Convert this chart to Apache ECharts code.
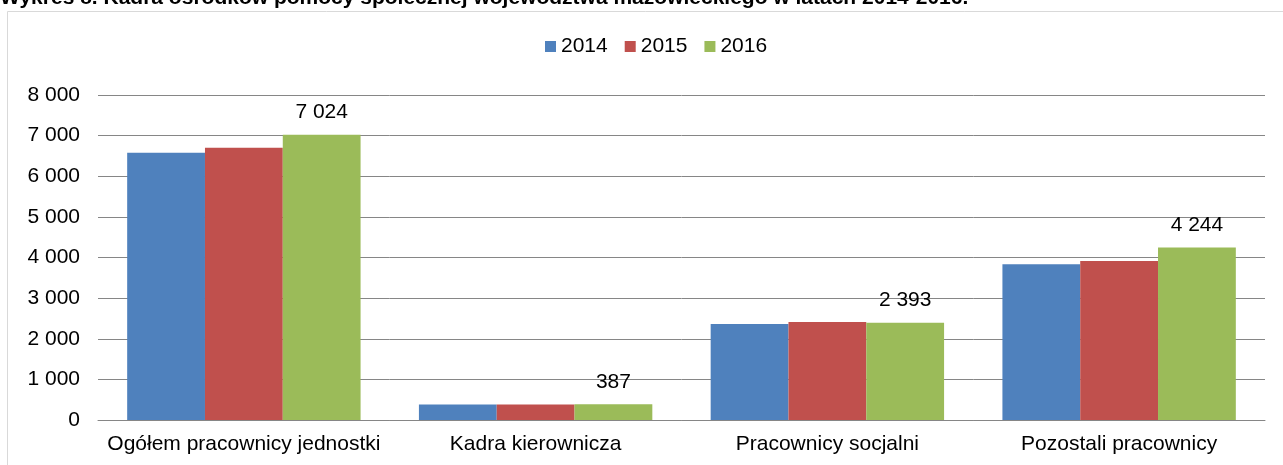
<!DOCTYPE html>
<html>
<head>
<meta charset="utf-8">
<script src="https://cdn.jsdelivr.net/npm/echarts@6/dist/echarts.min.js"></script>
<style>
  html, body { margin: 0; padding: 0; background: #fff; }
  #chart { width: 1283px; height: 465px; }
</style>
</head>
<body>
<div id="chart"></div>
<script>
// kategorie i wartości
const categories = ['Ogółem pracownicy jednostki', 'Kadra kierownicza', 'Pracownicy socjalni', 'Pozostali pracownicy']
const years = ['2014', '2015', '2016']
const values2014 = [6580, 379, 2363, 3832]
const values2015 = [6703, 383, 2412, 3914]
const values2016 = [7024, 387, 2393, 4244]
const yTicks = [0, 1000, 2000, 3000, 4000, 5000, 6000, 7000, 8000]

const fmt = v => String(v).replace(/\B(?=(\d{3})+(?!\d))/g, ' ')
const font = 'Liberation Sans, Arial, sans-serif'

const myChart = echarts.init(document.getElementById('chart'))

const option = {
  animation: false,
  textStyle: { fontFamily: font },
  title: {
    text: 'Wykres 8. Kadra ośrodków pomocy społecznej województwa mazowieckiego w latach 2014-2016.',
    left: 0,
    top: -12,
    padding: 0,
    textStyle: { fontFamily: font, fontSize: 21, fontWeight: 'bold', color: '#000' }
  },
  graphic: [
    {
      type: 'rect',
      shape: { x: 7.5, y: 11.5, width: 1290, height: 470 },
      style: { fill: 'none', stroke: '#d9d9d9', lineWidth: 1 },
      z: -1
    }
  ],
  legend: {
    data: years,
    top: 36,
    left: 545,
    itemWidth: 11,
    itemHeight: 11,
    itemGap: 17,
    icon: 'rect',
    padding: 0,
    textStyle: { fontFamily: font, fontSize: 21, color: '#000' }
  },
  grid: {
    left: 98,
    right: 18,
    top: 95,
    bottom: 45,
    containLabel: false
  },
  xAxis: {
    type: 'category',
    data: categories,
    axisTick: { show: false },
    axisLine: { lineStyle: { color: '#868686', width: 1 } },
    axisLabel: { color: '#000', fontSize: 21, margin: 14, fontFamily: font, interval: 0 }
  },
  yAxis: {
    type: 'value',
    min: yTicks[0],
    max: yTicks[yTicks.length - 1],
    interval: 1000,
    axisLine: { show: false },
    axisTick: { show: false },
    splitLine: { lineStyle: { color: '#868686', width: 1 } },
    axisLabel: { color: '#000', fontSize: 21, margin: 18, fontFamily: font, formatter: fmt }
  },
  series: [
    {
      name: '2014',
      type: 'bar',
      data: values2014,
      barGap: '0%',
      barCategoryGap: '20%',
      itemStyle: { color: '#4F81BD' }
    },
    {
      name: '2015',
      type: 'bar',
      data: values2015,
      itemStyle: { color: '#C0504D' }
    },
    {
      name: '2016',
      type: 'bar',
      data: values2016,
      itemStyle: { color: '#9BBB59' },
      label: {
        show: true,
        position: 'top',
        distance: 12,
        color: '#000',
        fontSize: 21,
        fontFamily: font,
        formatter: p => fmt(p.value)
      }
    }
  ]
}

myChart.setOption(option)
</script>
</body>
</html>
